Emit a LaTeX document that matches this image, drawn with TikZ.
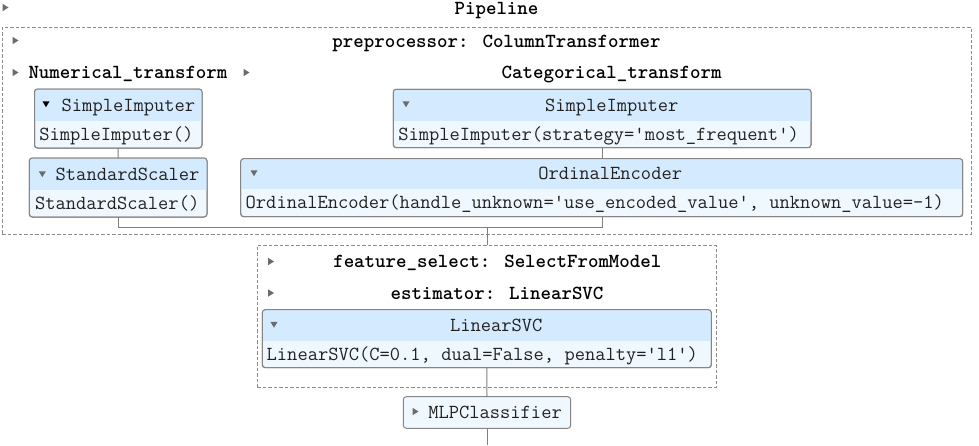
\documentclass[tikz,border=0pt]{standalone}
\usepackage{fontspec}
\begin{document}
\begin{tikzpicture}[x=1pt,y=-1pt,
  every node/.style={font=\ttfamily\fontsize{19.94}{22}\selectfont},
  txt/.style={inner sep=0pt, outer sep=0pt, text height=12pt, text depth=4pt, text=black!87},
  ttl/.style={txt, font=\ttfamily\fontsize{19.94}{22}\selectfont\bfseries, text=black},
  ebox/.style={draw=black!48, line width=1pt, fill=bodycol, rounded corners=3pt, inner sep=0pt, outer sep=0pt},
  cont/.style={draw=black!45, line width=1pt, dash pattern=on 3.5pt off 2pt, inner sep=0pt, outer sep=0pt},
  conn/.style={draw=black!50, line width=1pt},
  tricol/.style={fill=black!58},
]
\definecolor{bodycol}{HTML}{F0F8FF}
\definecolor{hdrcol}{HTML}{D4EBFF}
\useasboundingbox (0,0) rectangle (979,445);
\fill[white] (0,0) rectangle (979,445);

\newcommand\rtri[3][tricol]{\fill[#1] ({#2-2.8},{#3-3.6}) -- ({#2+3},{#3}) -- ({#2-2.8},{#3+3.6}) -- cycle;}
\newcommand\dtri[3][tricol]{\fill[#1] ({#2-3.5},{#3-2.6}) -- ({#2+3.5},{#3-2.6}) -- ({#2},{#3+3.2}) -- cycle;}
% estimator box: name, x1, y1, x2, y2, ysplit
\newcommand\estbox[6]{%
  \node[ebox, minimum width={#4-#2}, minimum height={#5-#3}] (#1) at ({(#2+#4)/2},{(#3+#5)/2}) {};
  \begin{scope}
    \clip[rounded corners=3pt] (#1.south west) rectangle (#1.north east);
    \fill[hdrcol] (#2,#3) rectangle (#4,#6);
  \end{scope}
  \draw[draw=black!48, line width=1pt, rounded corners=3pt] (#1.south west) rectangle (#1.north east);
}

% containers
\node[cont, minimum width=969pt, minimum height=207.5pt] (pre) at (486.5,130.75) {};
\node[cont, minimum width=458.7pt, minimum height=142.3pt] (fs) at (486.65,316.15) {};

% estimator boxes
\estbox{nsi}{34.5}{89}{202}{148}{121}
\estbox{nss}{29.3}{158}{207}{217}{190}
\estbox{csi}{393.3}{89.3}{811}{147.7}{121}
\estbox{coe}{240.7}{158.7}{962.7}{216.7}{189}
\estbox{svc}{262.3}{309.7}{711.3}{367.7}{341}
\node[ebox, minimum width=167.4pt, minimum height=31.6pt] (mlp) at (487,412.5) {};

% connectors
\coordinate (join) at (487.3,227.3);
\coordinate (end) at (487,445);
\draw[conn] (nsi.south) -- (nss.north);
\draw[conn] (csi.south) -- (csi.south |- coe.north);
\draw[conn] (nss.south) |- (join) -| (coe.south -| csi.south);
\draw[conn] (join) -- (join |- fs.north);
\draw[conn] (svc.south) -- (mlp.north);
\draw[conn] (mlp.south) -- (end);

% titles
\rtri{5.5}{7.5}
\node[ttl] (tpipe) at (496.5,10.5) {Pipeline};
\rtri{15.5}{40.5}
\node[ttl] (tpre) at (496.5,43.5) {preprocessor: ColumnTransformer};
\rtri{15.5}{72.5}
\node[ttl, anchor=west] (tnum) at (28.5,74.5) {Numerical\_transform};
\rtri{246.5}{72.5}
\node[ttl] (tcat) at (611.6,74.5) {Categorical\_transform};
\rtri{271}{261.5}
\node[ttl] (tfs) at (497.3,263.5) {feature\_select: SelectFromModel};
\rtri{271}{293}
\node[ttl] (test) at (497,295) {estimator: LinearSVC};

% box texts
\dtri[fill=black]{46}{104}
\node[txt, anchor=west] (hnsi) at (61.7,107) {SimpleImputer};
\node[txt, anchor=west] (bnsi) at (39.3,136) {SimpleImputer()};
\dtri{42.3}{174}
\node[txt, anchor=west] (hnss) at (55.7,176) {StandardScaler};
\node[txt, anchor=west] (bnss) at (35,205) {StandardScaler()};
\dtri{406}{104}
\node[txt, anchor=west] (hcsi) at (545,107) {SimpleImputer};
\node[txt, anchor=west] (bcsi) at (398.3,136) {SimpleImputer(strategy='most\_frequent')};
\dtri{254}{173}
\node[txt, anchor=west] (hcoe) at (538.3,175.5) {OrdinalEncoder};
\node[txt, anchor=west] (bcoe) at (245.7,204.5) {OrdinalEncoder(handle\_unknown='use\_encoded\_value', unknown\_value=-1)};
\dtri{274}{324.5}
\node[txt, anchor=west] (hsvc) at (450,327) {LinearSVC};
\node[txt, anchor=west] (bsvc) at (266.7,356) {LinearSVC(C=0.1, dual=False, penalty='l1')};
\rtri{415.5}{411.5}
\node[txt, anchor=west] (tmlp) at (428.3,414) {MLPClassifier};
\end{tikzpicture}
\end{document}
